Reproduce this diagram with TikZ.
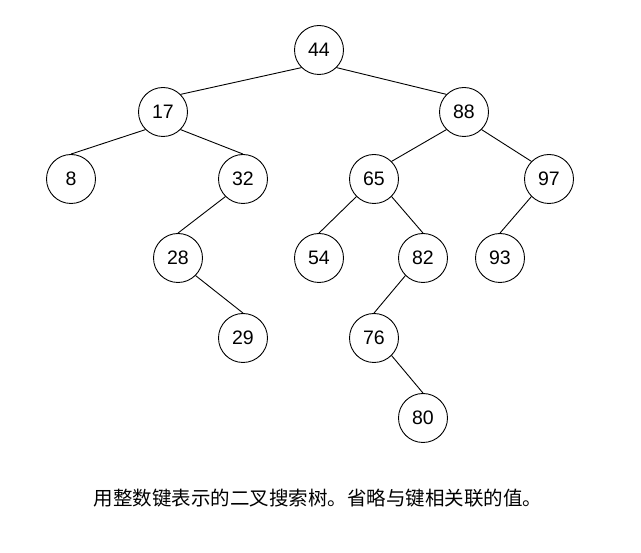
\documentclass[tikz,border=0pt]{standalone}
\usepackage{fontspec}
\setmainfont{Liberation Sans}
\newfontfamily\cjk{Noto Sans CJK SC}
\begin{document}
\begin{tikzpicture}[x=1pt,y=-1pt,
  keynode/.style={circle,draw,line width=0.9pt,minimum size=49pt,inner sep=0pt,font=\fontsize{19.5}{22}\selectfont},
  edge/.style={line width=0.9pt}]
\useasboundingbox[fill=white] (0,0) rectangle (641,553);
\node[keynode] (n44) at (319,50) {44};
\node[keynode] (n17) at (163,112) {17};
\node[keynode] (n88) at (464,112) {88};
\node[keynode] (n8) at (71,179) {8};
\node[keynode] (n32) at (243,179) {32};
\node[keynode] (n65) at (374,179) {65};
\node[keynode] (n97) at (549,179) {97};
\node[keynode] (n28) at (178,258) {28};
\node[keynode] (n54) at (319,258) {54};
\node[keynode] (n82) at (423,258) {82};
\node[keynode] (n93) at (500,258) {93};
\node[keynode] (n29) at (243,338) {29};
\node[keynode] (n76) at (374,338) {76};
\node[keynode] (n80) at (423,418) {80};
\draw[edge] (n44.south west) -- (n17.north east);
\draw[edge] (n44.south east) -- (n88.north west);
\draw[edge] (n17.south west) -- (n8.north);
\draw[edge] (n17.south east) -- (n32.north);
\draw[edge] (n88.south west) -- (n65.north east);
\draw[edge] (n88.south east) -- (n97.north west);
\draw[edge] (n32.south west) -- (n28.north);
\draw[edge] (n28.south east) -- (n29.north);
\draw[edge] (n65.south west) -- (n54.north);
\draw[edge] (n65.south east) -- (n82.north);
\draw[edge] (n82.south west) -- (n76.north);
\draw[edge] (n76.south east) -- (n80.north);
\draw[edge] (n97.south west) -- (n93.north);
\node[font=\cjk\fontsize{19.5}{22}\selectfont,inner sep=0pt] (cap) at (318,498) {用整数键表示的二叉搜索树。省略与键相关联的值。};
\end{tikzpicture}
\end{document}
